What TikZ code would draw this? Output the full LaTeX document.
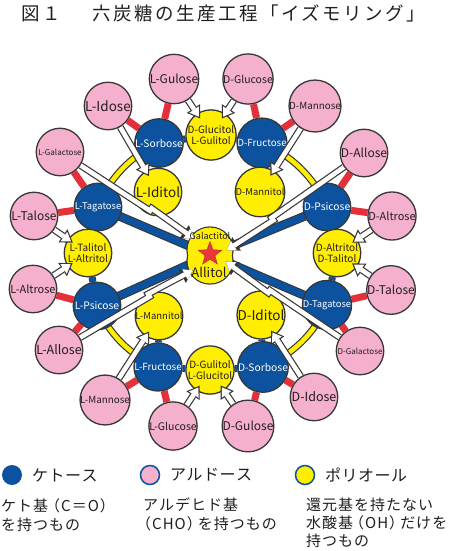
\documentclass[tikz,border=0pt]{standalone}
\usepackage{fontspec}
\setmainfont{Noto Sans CJK JP}
\usetikzlibrary{arrows.meta,calc,shapes.geometric}
\ExplSyntaxOn
\NewDocumentCommand{\spc}{m m}{\tl_map_inline:nn {#2} {##1\hspace{#1}}}
\ExplSyntaxOff
\definecolor{ketblue}{RGB}{12,82,158}
\definecolor{aldpink}{RGB}{244,176,204}
\definecolor{polyyel}{RGB}{255,238,0}
\definecolor{redbar}{RGB}{228,48,58}
\definecolor{outl}{RGB}{55,55,55}
\definecolor{txt}{RGB}{35,30,30}
\definecolor{starred}{RGB}{232,56,60}
\pgfdeclarelayer{bg}
\pgfdeclarelayer{arr}
\pgfdeclarelayer{fg}
\pgfsetlayers{bg,main,arr,fg}
\newcommand{\fz}[1]{\fontsize{#1}{#1}\selectfont}
\newcommand{\fzz}[1]{\fontsize{#1}{11}\selectfont}
\tikzset{
  mol/.style={circle,draw=outl,line width=1.3pt,minimum size=47.5pt,inner sep=0pt,align=center},
  ket/.style={mol,fill=ketblue,text=white},
  ald/.style={mol,fill=aldpink,text=txt},
  pol/.style={mol,fill=polyyel,text=txt},
  redlink/.style={draw=redbar,line width=7pt},
  bluelink/.style={draw=outl,line width=7pt,postaction={draw=ketblue,line width=4.8pt}},
  band/.style={draw=outl,line width=9pt,postaction={draw=ketblue,line width=6.8pt}},
  yarc/.style={draw=outl,line width=7pt,postaction={draw=polyyel,line width=4.6pt}},
  warrow/.style={draw=outl,line width=7pt,-{Triangle[length=12pt,width=16pt,line width=0pt]},shorten >=-6pt,
     postaction={draw=white,line width=4.6pt,-{Triangle[length=8.6pt,width=11.5pt,line width=0pt]},shorten >=-3.84pt}},
  longarrow/.style={warrow,shorten >=-4pt,postaction={shorten >=-1.84pt}},
  legtext/.style={anchor=west,text=txt,font=\fz{16},inner sep=0pt},
  desc/.style={anchor=north west,align=left,text=txt,font=\fontsize{15}{19}\selectfont,inner sep=0pt},
}
\begin{document}
\begin{tikzpicture}[x=1pt,y=-1pt]
\useasboundingbox (0,0) rectangle (450,551);
% title
\node[anchor=west,text=txt,font=\fz{18.5},inner sep=0pt] (title) at (21,13) {\spc{2.4pt}{図１}\hspace{30pt}\spc{2.4pt}{六炭糖の生産工程「イズモリング」}};

% ketoses
\node[ket,font=\fz{10.3}] (lsor) at (159,143) {L-Sorbose};
\node[ket,font=\fz{9.8}] (dfru) at (262,143) {D-Fructose};
\node[ket,font=\fz{9.4}] (ltag) at (98,207) {L-Tagatose};
\node[ket,font=\fz{10.3}] (dpsi) at (327,207) {D-Psicose};
\node[ket,font=\fz{10.3}] (lpsi) at (97,306) {L-Psicose};
\node[ket,font=\fz{9.4}] (dtag) at (327,305) {D-Tagatose};
\node[ket,font=\fz{9.8}] (lfru) at (158,367) {L-Fructose};
\node[ket,font=\fz{10.3}] (dsor) at (263,367) {D-Sorbose};

% polyols
\node[pol,font=\fzz{10}] (dglc) at (211,135) {D-Glucitol\\L-Gulitol};
\node[pol,font=\fz{13.5}] (lidi) at (158,192) {L-Iditol};
\node[pol,font=\fz{9.5}] (dman) at (260,192) {D-Mannitol};
\node[pol,font=\fzz{10}] (ltal) at (88,253) {L-Talitol\\L-Altritol};
\node[pol,font=\fzz{10}] (dalt) at (337,253) {D-Altritol\\D-Talitol};
\node[pol,font=\fz{9.5}] (lman) at (159,316) {L-Mannitol};
\node[pol,font=\fz{13.5}] (didi) at (261,315) {D-Iditol};
\node[pol,font=\fzz{10}] (dgul) at (210,370) {D-Gulitol\\L-Glucitol};

% central polyols
\node[circle,draw=outl,line width=1.3pt,minimum size=46pt,inner sep=0pt] (galac) at (210,250) {};
\node[circle,draw=outl,line width=1.3pt,minimum size=46pt,inner sep=0pt] (alli) at (210,261) {};
\fill[polyyel] (galac.center) circle[radius=22.35pt] (alli.center) circle[radius=22.35pt];
\coordinate (ctr) at (210,255);

% aldoses
\begin{pgfonlayer}{fg}
\node[ald,font=\fz{12}] (lgul) at (174,79) {L-Gulose};
\node[ald,font=\fz{10.5}] (dglu) at (248,79) {D-Glucose};
\node[ald,font=\fz{13.5}] (lido) at (108,106) {L-Idose};
\node[ald,font=\fz{9.8}] (dmano) at (315,106) {D-Mannose};
\node[ald,font=\fz{8}] (lgal) at (60,152) {L-Galactose};
\node[ald,font=\fz{12}] (dall) at (364,153) {D-Allose};
\node[ald,font=\fz{12}] (ltalo) at (34,216) {L-Talose};
\node[ald,font=\fz{11}] (dalto) at (392,216) {D-Altrose};
\node[ald,font=\fz{11}] (lalto) at (33,289) {L-Altrose};
\node[ald,font=\fz{12}] (dtalo) at (391,290) {D-Talose};
\node[ald,font=\fz{12.5}] (lall) at (59,350) {L-Allose};
\node[ald,font=\fz{8}] (dgala) at (360,351) {D-Galactose};
\node[ald,font=\fz{9.8}] (lmano) at (105,400) {L-Mannose};
\node[ald,font=\fz{12.5}] (didoo) at (314,397) {D-Idose};
\node[ald,font=\fz{10.5}] (lglu) at (173,426) {L-Glucose};
\node[ald,font=\fz{12}] (dgulo) at (248,426) {D-Gulose};
\node[star,star points=5,star point ratio=2.4,fill=starred,draw=starred!75!black,line width=0.4pt,minimum size=25pt,inner sep=0pt] (star) at (210,254) {};
\node[text=txt,font=\fz{9},inner sep=0pt] (galtxt) at (210,236) {Galactitol};
\node[text=txt,font=\fz{13},inner sep=0pt] (allitxt) at (209,272) {Allitol};
\end{pgfonlayer}

% background links
\begin{pgfonlayer}{bg}
\draw[yarc] (ltag.center) to[bend left=22.5,looseness=0.885] (lsor.center);
\draw[yarc] (dfru.center) to[bend left=22.5,looseness=0.885] (dpsi.center);
\draw[yarc] (dtag.center) to[bend left=22.5,looseness=0.885] (dsor.center);
\draw[yarc] (lfru.center) to[bend left=22.5,looseness=0.885] (lpsi.center);
\draw[band] (ltag.center) -- (ctr);
\draw[band] (lpsi.center) -- (ctr);
\draw[band] (dpsi.center) -- (ctr);
\draw[band] (dtag.center) -- (ctr);
\foreach \a/\b in {lsor/dglc,dglc/dfru,lsor/lidi,dfru/dman,ltag/ltal,ltal/lpsi,dpsi/dalt,dalt/dtag,lfru/lman,lfru/dgul,dgul/dsor,dsor/didi}
  \draw[bluelink] (\a) -- (\b);
\foreach \a/\b in {lgul/lsor,lido/lsor,dglu/dfru,dmano/dfru,lgal/ltag,ltalo/ltag,dall/dpsi,dalto/dpsi,lalto/lpsi,lall/lpsi,lmano/lfru,lglu/lfru,dgulo/dsor,didoo/dsor,dtalo/dtag,dgala/dtag}
  \draw[redlink] (\a) -- (\b);
\end{pgfonlayer}

% white arrows
\begin{pgfonlayer}{arr}
\foreach \a/\b in {lgul/dglc,dglu/dglc,lido/lidi,dmano/dman,ltalo/ltal,lalto/ltal,dalto/dalt,dtalo/dalt,lmano/lman,lglu/dgul,dgulo/dgul,didoo/didi}
  \draw[warrow] (\a) -- (\b);
\foreach \a/\b in {lgal/galac,dgala/galac,dall/alli,lall/alli}
  \draw[longarrow] (\a) -- ($(\a)!0.6!(\b)$) -- ($(\a)!0.6!(\b)!3pt!90:(\b)$) -- (\b);
\end{pgfonlayer}

% legend
\node[circle,fill=ketblue,minimum size=20pt,inner sep=0pt] (lk) at (12,475) {};
\node[legtext] (lkt) at (32,475) {\spc{0.5pt}{ケトース}};
\node[circle,fill=aldpink,draw=ketblue,line width=1.5pt,minimum size=19pt,inner sep=0pt] (la) at (150,475) {};
\node[legtext] (lat) at (170,475) {\spc{0.5pt}{アルドース}};
\node[circle,fill=polyyel,draw=ketblue,line width=1.5pt,minimum size=19pt,inner sep=0pt] (lp) at (305,475) {};
\node[legtext] (lpt) at (325,475) {\spc{0.5pt}{ポリオール}};
\node[desc] (dk) at (1,498) {\spc{1pt}{ケト基}\hspace{-4pt}\spc{1pt}{（C＝O）}\\\spc{1pt}{を持つもの}};
\node[desc] (da) at (143,498) {\spc{1pt}{アルデヒド基}\\\hspace*{-7pt}\spc{1pt}{（CHO）}\hspace{-5pt}\spc{1pt}{を持つもの}};
\node[desc,font=\fontsize{15}{18}\selectfont] (dp) at (306,498) {\spc{1pt}{還元基を持たない}\\\spc{1pt}{水酸基}\hspace{-5pt}\spc{1pt}{（OH）}\hspace{-5pt}\spc{1pt}{だけを}\\\spc{1pt}{持つもの}};
\end{tikzpicture}
\end{document}
